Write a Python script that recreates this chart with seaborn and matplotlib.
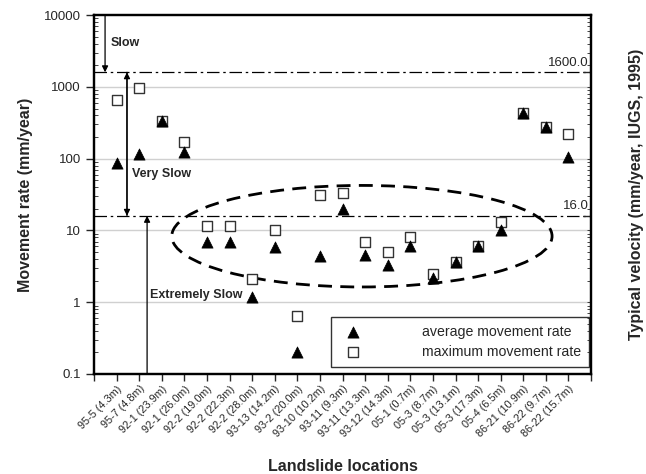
import matplotlib
matplotlib.use("Agg")
import matplotlib.pyplot as plt
from matplotlib.patches import Ellipse
from matplotlib.ticker import LogLocator, NullFormatter, FixedLocator, FixedFormatter
import seaborn as sns
import pandas as pd

sns.set_theme(style="white")
plt.rcParams['font.family'] = ['Liberation Sans', 'DejaVu Sans']

locations = ["95-5 (4.3m)", "95-7 (4.8m)", "92-1 (23.9m)", "92-1 (26.0m)", "92-2 (19.0m)",
             "92-2 (22.3m)", "92-2 (28.0m)", "93-13 (14.2m)", "93-2 (20.0m)", "93-10 (10.2m)",
             "93-11 (9.3m)", "93-11 (13.3m)", "93-12 (14.3m)", "05-1 (0.7m)", "05-3 (8.7m)",
             "05-3 (13.1m)", "05-3 (17.3m)", "05-4 (6.5m)", "86-21 (10.9m)", "86-22 (9.7m)",
             "86-22 (15.7m)"]
avg_rate = [86, 115, 330, 122, 7.0, 7.0, 1.17, 5.8, 0.2, 4.4, 20, 4.5, 3.3, 6.0, 2.2,
            3.6, 6.0, 10, 430, 280, 105]
max_rate = [650, 960, 340, 170, 11.5, 11.5, 2.1, 10.3, 0.64, 31, 33, 6.9, 5.0, 8.0, 2.5,
            3.6, 6.0, 13, 430, 280, 218]
thresholds = [1600.0, 16.0]
y_ticks = [0.1, 1, 10, 100, 1000, 10000]
y_tick_labels = ["0.1", "1", "10", "100", "1000", "10000"]

df = pd.DataFrame({"pos": range(1, len(locations) + 1), "location": locations,
                   "avg": avg_rate, "max": max_rate})

fig = plt.figure(figsize=(6.46, 4.74), dpi=100)
ax = fig.add_axes([0.1455, 0.211, 0.7695, 0.757])

ax.set_yscale("log")
ax.set_ylim(0.1, 10000)
ax.set_xlim(0, len(locations) + 1)

# grid at decades
for v in y_ticks[1:-1]:
    ax.axhline(v, color="#d0d0d0", lw=1, zorder=0)

# class boundaries
for t in thresholds:
    ax.axhline(t, color="black", lw=0.9, ls=(0, (10, 3, 2, 3)), zorder=1)
    ax.text(21.9, t * 1.12, f"{t:.1f}", ha="right", va="bottom", fontsize=9.5)

sns.scatterplot(data=df, x="pos", y="max", marker="s", s=50, facecolor="white",
                edgecolor="#333333", linewidth=1, ax=ax, zorder=3,
                label="maximum movement rate")
sns.scatterplot(data=df, x="pos", y="avg", marker="^", s=65, color="black",
                edgecolor="black", linewidth=0.5, ax=ax, zorder=4,
                label="average movement rate")

# velocity class arrows
arr = dict(arrowstyle="-|>", color="black", lw=0.9, mutation_scale=9, shrinkA=0, shrinkB=0)
ax.annotate("", xy=(0.49, 1600), xytext=(0.49, 10000), arrowprops=arr)
ax.annotate("", xy=(1.46, 1600), xytext=(1.46, 16), arrowprops=arr)
ax.annotate("", xy=(1.46, 16), xytext=(1.46, 1600), arrowprops=arr)
ax.annotate("", xy=(2.35, 16), xytext=(2.35, 0.1), arrowprops=arr)
ax.text(0.72, 4100, "Slow", fontsize=9, fontweight="bold", va="center")
ax.text(1.7, 62, "Very Slow", fontsize=9, fontweight="bold", va="center")
ax.text(2.5, 1.25, "Extremely Slow", fontsize=9, fontweight="bold", va="center")

# dashed ellipse around the slow group
ax.add_patch(Ellipse((0.539, 0.384), 0.765, 0.283, transform=ax.transAxes, fill=False,
                     ls=(0, (5, 3)), lw=2, edgecolor="black", zorder=2))

ax.set_xticks(range(0, len(locations) + 2))
ax.set_xticklabels([""] + locations + [""], rotation=45, ha="right",
                   rotation_mode="anchor", fontsize=7.8)
ax.yaxis.set_major_locator(FixedLocator(y_ticks))
ax.yaxis.set_major_formatter(FixedFormatter(y_tick_labels))
ax.yaxis.set_minor_locator(LogLocator(base=10, subs=range(2, 10)))
ax.yaxis.set_minor_formatter(NullFormatter())
ax.tick_params(axis="y", which="major", direction="out", length=6, width=1, labelsize=9.5)
ax.tick_params(axis="y", which="minor", direction="in", length=3, width=0.6, left=True)
ax.tick_params(axis="x", which="major", direction="out", length=5, width=1, bottom=True,
               pad=2)
for s in ax.spines.values():
    s.set_color("black")
    s.set_linewidth(1.6)

ax.set_xlabel("Landslide locations", fontsize=11.5, fontweight="bold", labelpad=14)
ax.set_ylabel("Movement rate (mm/year)", fontsize=11.5, fontweight="bold", labelpad=8)

ax2 = ax.twinx()
ax2.set_yscale("log")
ax2.set_ylim(0.1, 10000)
ax2.yaxis.set_major_locator(FixedLocator(thresholds))
ax2.yaxis.set_major_formatter(NullFormatter())
ax2.yaxis.set_minor_locator(LogLocator(base=10, subs=range(1, 10)))
ax2.yaxis.set_minor_formatter(NullFormatter())
ax2.tick_params(axis="y", which="major", direction="in", length=6, width=1, right=True)
ax2.tick_params(axis="y", which="minor", direction="in", length=3, width=0.6, right=True)
ax2.set_ylabel("Typical velocity (mm/year, IUGS, 1995)", fontsize=11.5, fontweight="bold",
               labelpad=24)
for s in ax2.spines.values():
    s.set_color("black")
    s.set_linewidth(1.6)

h, l = ax.get_legend_handles_labels()
leg = ax.legend(h[::-1], l[::-1], loc="lower right", bbox_to_anchor=(0.996, 0.02),
                fontsize=10.2, frameon=True, fancybox=False, edgecolor="black",
                handlelength=2, handletextpad=3.9, borderpad=0.55, labelspacing=0.45,
                borderaxespad=0)
leg.get_frame().set_linewidth(1)

fig.savefig("out.png", dpi=100)
